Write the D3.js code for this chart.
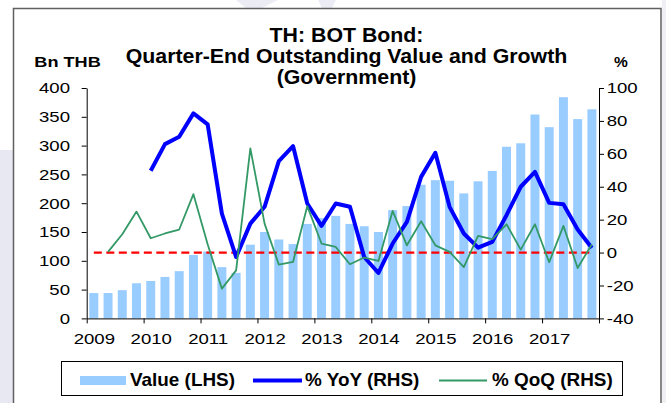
<!DOCTYPE html>
<html><head><meta charset="utf-8">
<script src="https://cdn.jsdelivr.net/npm/d3@7"></script>
<style>
html,body{margin:0;padding:0;background:#fff;}
text{font-family:"Liberation Sans",Arial,sans-serif;fill:#000;}
</style></head>
<body>
<svg id="chart" width="666" height="403"></svg>
<script>
const quarters = ["2009Q1","2009Q2","2009Q3","2009Q4","2010Q1","2010Q2","2010Q3","2010Q4",
"2011Q1","2011Q2","2011Q3","2011Q4","2012Q1","2012Q2","2012Q3","2012Q4",
"2013Q1","2013Q2","2013Q3","2013Q4","2014Q1","2014Q2","2014Q3","2014Q4",
"2015Q1","2015Q2","2015Q3","2015Q4","2016Q1","2016Q2","2016Q3","2016Q4",
"2017Q1","2017Q2","2017Q3","2017Q4"];
const valueLHS = [44,44,49,61,65,72,82,110,116,89,79,128,150,137,129,164,174,178,164,160,150,188,195,232,240,239,217,238,256,298,304,354,332,384,346,363];
const yoyRHS = [null,null,null,null,49.7,65.9,70.4,84.6,77.9,23.7,-2.7,17.6,27.8,55.6,64.7,29.8,16.2,29.8,27.8,-2.7,-12.4,5.5,18.6,46,60.6,27.8,11.6,3,6.5,22.7,40,49,30.2,29.4,14,2.8];
const qoqRHS = [null,0.4,11.1,24.9,8.7,11.6,14,35.5,5,-21.9,-10.8,63.3,17.6,-7.3,-5.7,28.2,5.5,3.4,-7.1,-3,-5.1,25.3,4.4,19,4.4,0.4,-8.8,10.1,8.1,17.2,1.8,17.2,-5.9,16.2,-9.4,5.1];
const yearLabels = [2009,2010,2011,2012,2013,2014,2015,2016,2017];
const leftTicks = [0,50,100,150,200,250,300,350,400];
const rightTicks = [-40,-20,0,20,40,60,80,100];
const titleLines = ["TH: BOT Bond:","Quarter-End Outstanding Value and Growth","(Government)"];
const legendItems = ["Value (LHS)","% YoY (RHS)","% QoQ (RHS)"];

const svg = d3.select("#chart");
const L = 86.7, R = 599, T = 88, B = 318.4;

// background decorations
svg.append("rect").attr("x",0).attr("y",0).attr("width",666).attr("height",403).attr("fill","#fff");
svg.append("rect").attr("x",0).attr("y",150).attr("width",13).attr("height",253).attr("fill","#e8e8f2");
svg.append("rect").attr("x",662).attr("y",0).attr("width",4).attr("height",403).attr("fill","#f0f0f4");
svg.append("polygon").attr("points","236,0 278,0 262,8 246,8").attr("fill","#ececf5");
svg.append("polygon").attr("points","318,0 336,0 332,8 322,8").attr("fill","#ececf5");
svg.append("rect").attr("x",13.5).attr("y",8.5).attr("width",647.5).attr("height",420)
  .attr("fill","#fff").attr("stroke","#606060").attr("stroke-width",1.5);

function stretch(sel,k){
  sel.each(function(){
    const x = +this.getAttribute("x")||0, y = +this.getAttribute("y")||0;
    d3.select(this).attr("transform",`translate(${x},${y}) scale(${k},1) translate(${-x},${-y})`);
  });
}

const x = d3.scaleBand().domain(quarters).range([L,R]).paddingInner(0.37).paddingOuter(0.185);
const cx = q => x(q) + x.bandwidth()/2;
const yL = d3.scaleLinear().domain([0,400]).range([B,T]);
const yR = d3.scaleLinear().domain([-40,100]).range([B,T]);
const yearX = d3.scaleLinear().domain([2009,2018]).range([L,R]);

// bars
svg.append("g").selectAll("rect").data(quarters).join("rect")
  .attr("x",q=>x(q)).attr("width",x.bandwidth())
  .attr("y",(q,i)=>yL(valueLHS[i])).attr("height",(q,i)=>B-yL(valueLHS[i]))
  .attr("fill","#99ccff");

// zero reference dashed line
svg.append("line").attr("x1",cx(quarters[0])).attr("x2",cx(quarters[quarters.length-1]))
  .attr("y1",yR(0)).attr("y2",yR(0)).attr("stroke","#ff0000").attr("stroke-width",2.3)
  .attr("stroke-dasharray","8,4.5");

// lines
const lineGen = arr => d3.line().defined((q,i)=>arr[i]!==null).x(q=>cx(q)).y((q,i)=>yR(arr[i]));
svg.append("path").datum(quarters).attr("d",lineGen(yoyRHS))
  .attr("fill","none").attr("stroke","#0000ff").attr("stroke-width",4).attr("stroke-linejoin","round");
svg.append("path").datum(quarters).attr("d",lineGen(qoqRHS))
  .attr("fill","none").attr("stroke","#339966").attr("stroke-width",1.8).attr("stroke-linejoin","round");

// axes
const fmt = d => String(d);
const axL = svg.append("g").attr("transform",`translate(${L},0)`)
  .call(d3.axisLeft(yL).tickValues(leftTicks).tickFormat(fmt).tickSize(5).tickSizeOuter(0).tickPadding(11.7));
const axR = svg.append("g").attr("transform",`translate(${R},0)`)
  .call(d3.axisRight(yR).tickValues(rightTicks).tickFormat(fmt).tickSize(5).tickSizeOuter(0).tickPadding(2.7));
const axB = svg.append("g").attr("transform",`translate(0,${B})`)
  .call(d3.axisBottom(yearX).tickValues(d3.range(2009,2019)).tickSize(5).tickSizeOuter(0)
    .tickFormat(d => yearLabels.includes(d) ? String(d) : ""));
[axL,axR,axB].forEach(a=>{
  a.selectAll("path,line").attr("stroke","#000").attr("stroke-width",1);
  a.selectAll("text").attr("font-size",15).attr("font-family","Liberation Sans, Arial, sans-serif").attr("fill","#000");
});
axB.selectAll("text").attr("x",x.step()/2).attr("y",25.6).attr("dy",0);
[axL,axR,axB].forEach(a=>stretch(a.selectAll("text"),1.24));

// titles
const tg = svg.append("g").attr("transform","translate(346.5,0)");
tg.selectAll("text").data(titleLines).join("text")
  .attr("x",0).attr("y",(d,i)=>42+i*21).attr("text-anchor","middle")
  .attr("font-size",20).attr("font-weight","bold").text(d=>d)
  .call(s=>stretch(s,1.066));

const bn = svg.append("text").attr("x",34.3).attr("y",67).attr("font-size",15.5).attr("font-weight","bold").text("Bn THB");
stretch(bn,1.17);
svg.append("text").attr("x",614).attr("y",67).attr("font-size",15.5).attr("font-weight","bold").text("%");

// legend
const lg = svg.append("g");
lg.append("rect").attr("x",61.5).attr("y",361.5).attr("width",561).attr("height",34)
  .attr("fill","#fff").attr("stroke","#000").attr("stroke-width",1);
lg.append("rect").attr("x",80).attr("y",376).attr("width",46).attr("height",9).attr("fill","#99ccff");
lg.append("line").attr("x1",253).attr("x2",302).attr("y1",380.5).attr("y2",380.5).attr("stroke","#0000ff").attr("stroke-width",4);
lg.append("line").attr("x1",439).attr("x2",487).attr("y1",380.5).attr("y2",380.5).attr("stroke","#339966").attr("stroke-width",1.8);
const lx = [130,305,492];
lg.selectAll("text.lt").data(legendItems).join("text").attr("class","lt")
  .attr("x",(d,i)=>lx[i]).attr("y",386.5).attr("font-size",17.5).attr("font-weight","bold").text(d=>d)
  .call(s=>stretch(s,1.08));
</script>
</body></html>
